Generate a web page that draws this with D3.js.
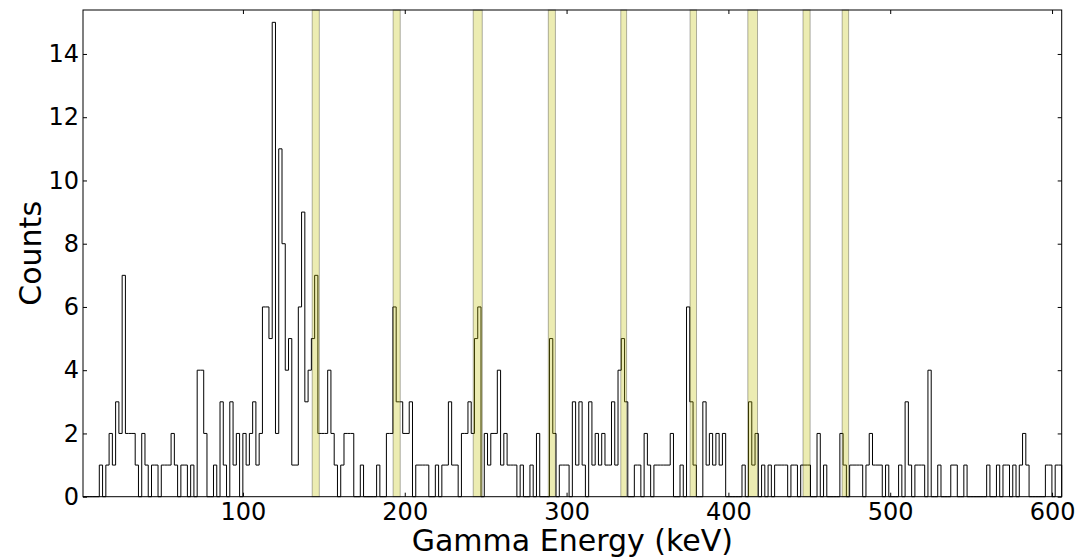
<!DOCTYPE html>
<html>
<head>
<meta charset="utf-8">
<script src="https://cdn.jsdelivr.net/npm/d3@7"></script>
<style>
  body { margin: 0; background: #fff; }
  svg { display: block; font-family: "DejaVu Sans", sans-serif; }
</style>
</head>
<body>
<svg id="spectrum" width="1084" height="558"></svg>
<script>
// histogram bins (keV)
var binStart = 1.17
var binWidth = 2.016
var counts = [
  0,0,0,0,0, 1,0,1,2,1, 3,2,7,2,2, 2,1,0,2,1,
  0,1,1,0,1, 1,1,2,1,0, 1,1,0,1,0, 4,4,2,0,0,
  1,0,3,1,0, 3,1,2,0,2, 1,2,3,1,2, 6,6,5,15,2,
  11,8,4,5,1, 1,6,9,3,4, 5,7,2,2,2, 4,2,1,0,1,
  2,2,2,0,0, 1,0,0,0,0, 1,0,0,2,2, 6,3,3,2,2,
  3,0,1,1,1, 1,0,0,1,0, 1,1,3,1,1, 0,2,2,3,2,
  5,6,0,2,1, 2,2,4,1,2, 1,1,1,0,1, 0,0,1,0,2,
  0,0,0,5,2, 0,1,1,1,0, 3,1,3,1,0, 3,1,2,1,2,
  1,1,3,1,4, 5,3,0,0,1, 1,0,2,1,0, 1,1,1,1,1,
  2,0,0,1,0, 6,3,1,0,0, 3,1,2,1,2, 1,2,0,0,0,
  0,0,1,0,3, 1,2,0,1,0, 1,0,1,1,1, 1,0,1,1,0,
  1,1,1,0,0, 2,0,1,0,0, 0,0,2,1,0, 1,1,1,1,0,
  1,2,1,1,1, 0,1,0,0,0, 1,0,3,1,0, 1,1,1,0,4,
  0,0,1,0,0, 0,1,1,0,0, 1,0,0,0,0, 0,0,1,0,0,
  1,0,1,1,0, 1,0,1,2,1, 0,0,0,0,0, 1,1,0,1,1
]

// highlighted gamma lines (keV)
var bandStarts = [142.8, 192.8, 242.3, 288.7, 333.5, 376.3, 412.0, 446.1, 470.3]
var bandEnds   = [147.2, 197.2, 247.9, 293.1, 337.1, 380.3, 418.0, 450.5, 474.3]

var xTicks = [100, 200, 300, 400, 500, 600]
var yTicks = [0, 2, 4, 6, 8, 10, 12, 14]
var yMax = 15.39
var xLabel = 'Gamma Energy (keV)'
var yLabel = 'Counts'

;(function(){
  var svg = d3.select('#spectrum')
  var left = 83, right = 1061.7, top = 10, bottom = 496.7

  var xEnd = binStart + counts.length * binWidth
  var xScale = d3.scaleLinear().domain([binStart, xEnd]).range([left, right])
  var yScale = d3.scaleLinear().domain([0, yMax]).range([bottom, top])

  // step outline of the histogram
  var pts = [[binStart, 0]]
  counts.forEach(function(c, i) {
    var e0 = binStart + i * binWidth
    pts.push([e0, c])
    pts.push([e0 + binWidth, c])
  })
  pts.push([xEnd, 0])

  var lineGenerator = d3.line()
    .x(d => xScale(d[0]))
    .y(d => yScale(d[1]))

  svg.append('path')
    .attr('d', lineGenerator(pts))
    .attr('fill', 'none')
    .attr('stroke', '#000')
    .attr('stroke-width', 1)

  // shaded bands on top
  svg.append('g').selectAll('rect')
    .data(bandStarts).enter()
    .append('rect')
    .attr('x', d => xScale(d))
    .attr('y', top)
    .attr('width', (d, i) => xScale(bandEnds[i]) - xScale(d))
    .attr('height', bottom - top)
    .attr('fill', 'rgb(191,191,0)')
    .attr('fill-opacity', 0.3)
    .attr('stroke', '#000')
    .attr('stroke-opacity', 0.3)
    .attr('stroke-width', 1)

  // frame
  svg.append('rect')
    .attr('x', left).attr('y', top)
    .attr('width', right - left).attr('height', bottom - top)
    .attr('fill', 'none')
    .attr('stroke', '#000')
    .attr('stroke-width', 1)

  // ticks point inward, on all four sides
  var xAxisB = d3.axisBottom(xScale).tickValues(xTicks).tickSize(-4).tickPadding(6)
  var xAxisT = d3.axisTop(xScale).tickValues(xTicks).tickSize(-4).tickFormat('')
  var yAxisL = d3.axisLeft(yScale).tickValues(yTicks).tickSize(-4).tickPadding(4)
  var yAxisR = d3.axisRight(yScale).tickValues(yTicks).tickSize(-4).tickFormat('')

  function style(g) {
    g.select('.domain').remove()
    g.selectAll('.tick line').attr('stroke', '#000').attr('stroke-width', 1)
    g.selectAll('.tick text').attr('fill', '#000').attr('font-size', '24px')
      .attr('font-family', '"DejaVu Sans", sans-serif')
  }

  svg.append('g').attr('transform', 'translate(0,' + bottom + ')').call(xAxisB).call(style)
  svg.append('g').attr('transform', 'translate(0,' + top + ')').call(xAxisT).call(style)
  svg.append('g').attr('transform', 'translate(' + left + ',0)').call(yAxisL).call(style)
  svg.append('g').attr('transform', 'translate(' + right + ',0)').call(yAxisR).call(style)

  svg.append('text')
    .text(xLabel)
    .attr('x', (left + right) / 2)
    .attr('y', 551)
    .attr('text-anchor', 'middle')
    .attr('font-size', '30px')

  svg.append('text')
    .text(yLabel)
    .attr('transform', 'translate(41,' + (top + bottom) / 2 + ') rotate(-90)')
    .attr('text-anchor', 'middle')
    .attr('font-size', '30px')
})()
</script>
</body>
</html>
